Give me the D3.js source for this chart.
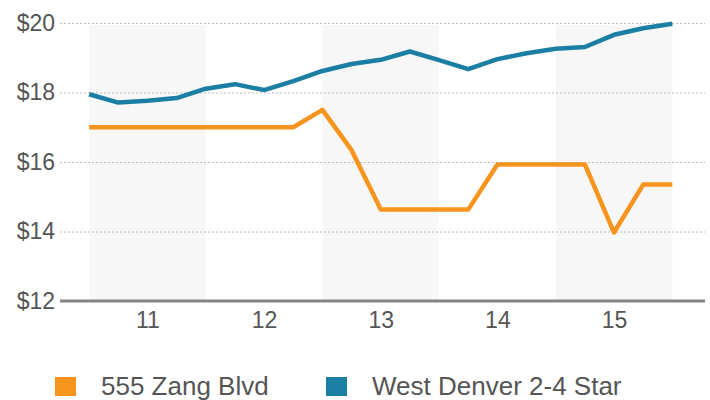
<!DOCTYPE html>
<html>
<head>
<meta charset="utf-8">
<script src="https://cdn.jsdelivr.net/npm/d3@7"></script>
<style>
  body { margin: 0; background: #fff; }
  text { font-family: "Liberation Sans", Arial, sans-serif; fill: #555; }
</style>
</head>
<body>
<svg id="chart"></svg>
<script>
// quarterly periods (year fractions, 2010.5 .. 2015.5)
const periods = [10.5, 10.75, 11, 11.25, 11.5, 11.75, 12, 12.25, 12.5, 12.75, 13,
                 13.25, 13.5, 13.75, 14, 14.25, 14.5, 14.75, 15, 15.25, 15.5];
const zang = [17, 17, 17, 17, 17, 17, 17, 17, 17.5, 16.34, 14.63,
              14.63, 14.63, 14.63, 15.93, 15.93, 15.93, 15.93, 13.97, 15.35, 15.35];
const westDenver = [17.95, 17.71, 17.76, 17.84, 18.11, 18.24, 18.07, 18.33, 18.62, 18.82, 18.94,
                    19.18, 18.93, 18.67, 18.96, 19.13, 19.26, 19.31, 19.66, 19.85, 19.98];
const years = [11, 12, 13, 14, 15];
const shadedYears = [11, 13, 15];
const yTicks = [12, 14, 16, 18, 20];
const seriesNames = ['555 Zang Blvd', 'West Denver 2-4 Star'];
const colors = ['#f7941e', '#1b7fa4'];

const width = 710, height = 400;
const svg = d3.select('#chart').attr('width', width).attr('height', height);

const x = d3.scaleLinear().domain([10.25, 15.78]).range([60, 705]);
const y = d3.scaleLinear().domain([12, 20]).range([301, 23]);

// alternating year bands
svg.append('g')
  .selectAll('rect')
  .data(shadedYears)
  .enter().append('rect')
  .attr('x', d => x(d - 0.5))
  .attr('width', d => x(d + 0.5) - x(d - 0.5))
  .attr('y', y(20) + 2)
  .attr('height', y(12) - y(20) - 2)
  .attr('fill', '#f7f7f7');

// dotted gridlines
svg.append('g')
  .selectAll('line')
  .data(yTicks.filter(d => d > 12))
  .enter().append('line')
  .attr('x1', 60).attr('x2', 705)
  .attr('y1', d => y(d) + 0.5).attr('y2', d => y(d) + 0.5)
  .attr('stroke', '#bcbcbc')
  .attr('stroke-dasharray', '2,2');

// y axis labels
const yAxis = svg.append('g')
  .attr('transform', 'translate(55,0)')
  .call(d3.axisLeft(y).tickValues(yTicks).tickSize(0).tickPadding(0).tickFormat(d => '$' + d));
yAxis.select('.domain').remove();
yAxis.selectAll('text').style('font-size', '23px').attr('fill', '#555')
  .style('font-family', '"Liberation Sans", Arial, sans-serif');

// x axis
const xAxis = svg.append('g')
  .attr('transform', 'translate(0,301)')
  .call(d3.axisBottom(x).tickValues(years).tickSize(0).tickPadding(11).tickFormat(d3.format('d')));
xAxis.select('.domain').remove();
xAxis.selectAll('text').style('font-size', '23px').attr('fill', '#555')
  .style('font-family', '"Liberation Sans", Arial, sans-serif');

svg.append('line')
  .attr('x1', 60).attr('x2', 705)
  .attr('y1', 301).attr('y2', 301)
  .attr('stroke', '#858585')
  .attr('stroke-width', 3);

// lines
const line = d3.line()
  .x((d, i) => x(periods[i]))
  .y(d => y(d));

[zang, westDenver].forEach((s, k) => {
  svg.append('path')
    .datum(s)
    .attr('d', line)
    .attr('fill', 'none')
    .attr('stroke', colors[k])
    .attr('stroke-width', 4.5)
    .attr('stroke-linejoin', 'round');
});

// legend
const legendX = [55, 326];
const legend = svg.append('g')
  .selectAll('g')
  .data(seriesNames)
  .enter().append('g')
  .attr('transform', (d, i) => `translate(${legendX[i]},377)`);
legend.append('rect')
  .attr('width', 21).attr('height', 19)
  .attr('fill', (d, i) => colors[i]);
legend.append('text')
  .attr('x', 46).attr('y', 18)
  .style('font-size', '26px')
  .text(d => d);
</script>
</body>
</html>
